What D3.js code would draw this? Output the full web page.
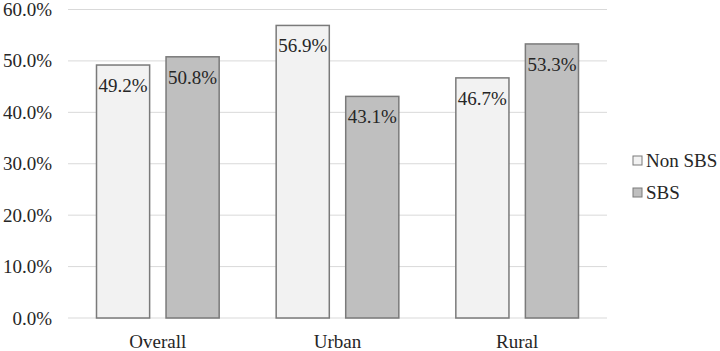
<!DOCTYPE html>
<html>
<head>
<meta charset="utf-8">
<script src="https://cdn.jsdelivr.net/npm/d3@7"></script>
<style>
  body { margin: 0; background: #fff; }
</style>
</head>
<body>
<div id="chart"></div>
<script>
const categories = ['Overall', 'Urban', 'Rural'];
const seriesNames = ['Non SBS', 'SBS'];
const nonSbs = [49.2, 56.9, 46.7];
const sbs = [50.8, 43.1, 53.3];
const yTicks = [0, 10, 20, 30, 40, 50, 60];

const colors = { 'Non SBS': '#f2f2f2', 'SBS': '#bfbfbf' };
const textColor = '#262626';

const config = { width: 720, height: 351, left: 68, right: 607, top: 9.5, bottom: 318 };

const rows = categories.map((c, i) => ({ cat: c, values: [
  { name: 'Non SBS', v: nonSbs[i] },
  { name: 'SBS', v: sbs[i] }
]}));

const svg = d3.select('#chart').append('svg')
  .attr('width', config.width)
  .attr('height', config.height);

const x = d3.scaleBand()
  .domain(categories)
  .range([config.left, config.right])
  .paddingInner(0)
  .paddingOuter(0);

const xInner = d3.scaleBand()
  .domain(seriesNames)
  .range([28.5, x.bandwidth() - 28.5])
  .paddingInner(0.236);

const y = d3.scaleLinear()
  .domain([0, 60])
  .range([config.bottom, config.top]);

// gridlines
svg.append('g')
  .selectAll('line')
  .data(yTicks)
  .join('line')
  .attr('x1', config.left)
  .attr('x2', config.right)
  .attr('y1', d => y(d))
  .attr('y2', d => y(d))
  .attr('stroke', '#d9d9d9')
  .attr('stroke-width', 1);

// y tick labels
svg.append('g')
  .selectAll('text')
  .data(yTicks)
  .join('text')
  .attr('x', 52)
  .attr('y', d => y(d) + 6.5)
  .attr('text-anchor', 'end')
  .style('font-family', 'Liberation Serif')
  .style('font-size', '19px')
  .style('fill', textColor)
  .text(d => d3.format('.1f')(d) + '%');

// bars
const groups = svg.append('g')
  .selectAll('g')
  .data(rows)
  .join('g')
  .attr('transform', d => `translate(${x(d.cat)},0)`);

groups.selectAll('rect')
  .data(d => d.values)
  .join('rect')
  .attr('x', d => xInner(d.name))
  .attr('y', d => y(d.v))
  .attr('width', xInner.bandwidth())
  .attr('height', d => y(0) - y(d.v))
  .attr('fill', d => colors[d.name])
  .attr('stroke', '#7a7a7a')
  .attr('stroke-width', 1.5);

groups.selectAll('.lbl')
  .data(d => d.values)
  .join('text')
  .attr('class', 'lbl')
  .attr('x', d => xInner(d.name) + xInner.bandwidth() / 2)
  .attr('y', d => y(d.v) + 27)
  .attr('text-anchor', 'middle')
  .style('font-family', 'Liberation Serif')
  .style('font-size', '19px')
  .style('fill', textColor)
  .text(d => d.v.toFixed(1) + '%');

// x labels
svg.append('g')
  .selectAll('text')
  .data(categories)
  .join('text')
  .attr('x', d => x(d) + x.bandwidth() / 2)
  .attr('y', 348)
  .attr('text-anchor', 'middle')
  .style('font-family', 'Liberation Serif')
  .style('font-size', '19px')
  .style('fill', textColor)
  .text(d => d);

// legend
const legend = svg.append('g')
  .selectAll('g')
  .data(seriesNames)
  .join('g')
  .attr('transform', (d, i) => `translate(633, ${156 + i * 32})`);

legend.append('rect')
  .attr('width', 9)
  .attr('height', 9)
  .attr('fill', d => colors[d])
  .attr('stroke', '#7a7a7a')
  .attr('stroke-width', 1);

legend.append('text')
  .attr('x', 13)
  .attr('y', 11)
  .style('font-family', 'Liberation Serif')
  .style('font-size', '19px')
  .style('fill', textColor)
  .text(d => d);
</script>
</body>
</html>
